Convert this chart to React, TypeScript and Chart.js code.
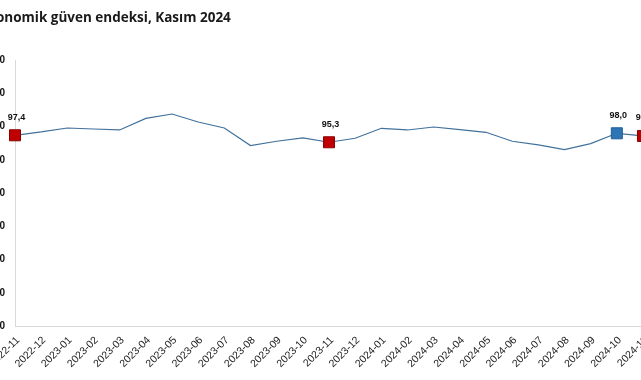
import React, { useEffect, useRef } from "react";
import { Chart, registerables } from "chart.js";

Chart.register(...registerables);

const TITLE = "Ekonomik güven endeksi, Kasım 2024";

const months = [
  "2022-11", "2022-12", "2023-01", "2023-02", "2023-03", "2023-04", "2023-05",
  "2023-06", "2023-07", "2023-08", "2023-09", "2023-10", "2023-11", "2023-12",
  "2024-01", "2024-02", "2024-03", "2024-04", "2024-05", "2024-06", "2024-07",
  "2024-08", "2024-09", "2024-10", "2024-11",
];

const confidence = [
  97.4, 98.4, 99.6, 99.3, 99.0, 102.5, 103.8, 101.4, 99.6, 94.3, 95.6, 96.6, 95.3,
  96.5, 99.5, 99.0, 99.9, 99.1, 98.3, 95.6, 94.5, 93.1, 94.9, 98.0, 97.2,
];

const yTicks = [40, 50, 60, 70, 80, 90, 100, 110, 120];

// highlighted points (index lists)
const redPoints = [0, 12, 24];
const bluePoints = [23];

const labelPlugin = {
  id: "valueLabels",
  afterDatasetsDraw(chart: any) {
    const ctx = chart.ctx;
    const meta = chart.getDatasetMeta(0);
    const idx = [...redPoints, ...bluePoints];
    ctx.save();
    ctx.font = "bold 9px 'Liberation Sans', Arial, sans-serif";
    ctx.fillStyle = "#111";
    ctx.textAlign = "center";
    ctx.textBaseline = "middle";
    idx.forEach((i) => {
      const p = meta.data[i];
      const txt = confidence[i].toFixed(1).replace(".", ",");
      ctx.fillText(txt, p.x + 1.5, p.y - 18);
    });
    ctx.restore();
  },
};

export default function App() {
  const ref = useRef<HTMLCanvasElement>(null);
  useEffect(() => {
    if (!ref.current) return;
    const colorFor = (i: number, red: string, blue: string) =>
      redPoints.includes(i) ? red : bluePoints.includes(i) ? blue : "transparent";
    const chart = new Chart(ref.current, {
      type: "line",
      data: {
        labels: months,
        datasets: [
          {
            data: confidence,
            borderColor: "#41719C",
            borderWidth: 1.2,
            tension: 0,
            pointStyle: "rect",
            pointRadius: (c: any) =>
              redPoints.includes(c.dataIndex) || bluePoints.includes(c.dataIndex) ? 7.8 : 0,
            pointBackgroundColor: (c: any) => colorFor(c.dataIndex, "#C00000", "#2E75B6"),
            pointBorderColor: (c: any) => colorFor(c.dataIndex, "#8B0000", "#1F5F99"),
            pointBorderWidth: 1,
          },
        ],
      },
      options: {
        responsive: false,
        animation: false,
        layout: { padding: { left: 20, right: 17, top: 0, bottom: 0 } },
        plugins: {
          legend: { display: false },
          tooltip: { enabled: false },
          title: {
            display: true,
            text: TITLE,
            align: "start",
            color: "#1a1a1a",
            font: { family: "'Open Sans', sans-serif", size: 13.5, weight: "bold" },
            padding: { top: 10, bottom: 34 },
          },
        },
        scales: {
          x: {
            offset: false,
            grid: { display: false, drawTicks: false },
            border: { display: true, color: "#d9d9d9", width: 1 },
            ticks: {
              minRotation: 45,
              maxRotation: 45,
              autoSkip: false,
              padding: 8,
              labelOffset: 3,
              color: "#222",
              font: { family: "'Liberation Sans', Arial, sans-serif", size: 10.5 },
            },
            afterFit: (s: any) => {
              s.height = 54;
            },
          },
          y: {
            min: 40,
            max: 120,
            afterBuildTicks: (s: any) => {
              s.ticks = yTicks.map((v) => ({ value: v }));
            },
            grid: { display: false, drawTicks: false },
            border: { display: true, color: "#d9d9d9", width: 1 },
            ticks: {
              padding: 10,
              color: "#111",
              font: { family: "'Liberation Sans', Arial, sans-serif", size: 10, weight: "bold" },
            },
            afterFit: (s: any) => {
              s.width = 35;
            },
          },
        },
      },
      plugins: [labelPlugin],
    } as any);
    return () => chart.destroy();
  }, []);
  return (
    <div style={{ position: "fixed", left: -40, top: 0, width: 700, height: 380 }}>
      <canvas ref={ref} width={700} height={380} style={{ width: 700, height: 380, display: "block" }} />
    </div>
  );
}
